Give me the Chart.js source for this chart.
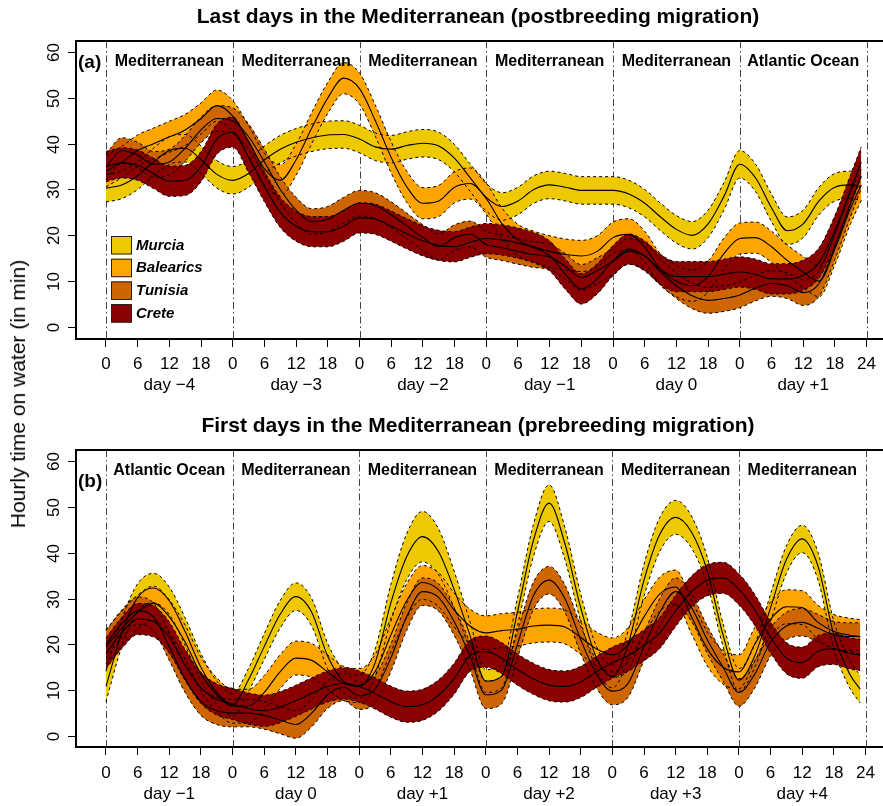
<!DOCTYPE html>
<html>
<head>
<meta charset="utf-8">
<script src="https://cdn.jsdelivr.net/npm/chart.js@4.4.1/dist/chart.umd.min.js"></script>
<style>
  body { margin: 0; background: #fff; width: 883px; height: 806px; position: relative; overflow: hidden;
         font-family: "Liberation Sans", Arial, Helvetica, sans-serif; }
  canvas { position: absolute; left: 0; }
  #chartA { top: 0; }
  #chartB { top: 403px; }
  #ylab { position: absolute; left: 18px; top: 394px; transform: translate(-50%, -50%) rotate(-90deg);
          white-space: nowrap; font-size: 21px; color: #000; }
</style>
</head>
<body>
<canvas id="chartA" width="883" height="403"></canvas>
<canvas id="chartB" width="883" height="403"></canvas>
<div id="ylab">Hourly time on water (in min)</div>
<script>
// hours since the start of the first day shown
const hours = [0, 3, 6, 9, 12, 15, 18, 21, 24, 27, 30, 33, 36, 39, 42, 45, 48, 51, 54, 57, 60, 63, 66, 69,
  72, 75, 78, 81, 84, 87, 90, 93, 96, 99, 102, 105, 108, 111, 114, 117, 120, 123, 126, 129, 132, 135, 138, 141, 143];
const hourTicks = [0, 6, 12, 18, 24, 30, 36, 42, 48, 54, 60, 66, 72, 78, 84, 90, 96, 102, 108, 114, 120, 126, 132, 138, 144];
const yTicks = [0, 10, 20, 30, 40, 50, 60];

const seriesNames = ["Murcia", "Balearics", "Tunisia", "Crete"];
const seriesColors = ["#EEC900", "#FFA500", "#CD6600", "#8B0000"];

// panel (a): last days in the Mediterranean
const daysA = ["day \u22124", "day \u22123", "day \u22122", "day \u22121", "day 0", "day +1"];
const regionsA = ["Mediterranean", "Mediterranean", "Mediterranean", "Mediterranean", "Mediterranean", "Atlantic Ocean"];
const murciaA = [30.3, 31, 33, 36, 38.5, 39, 36.5, 33.3, 32, 33.5, 36.5, 38.8, 40.3, 41.3, 41.9, 42,
  41, 39.3, 38.8, 39.6, 40.1, 39.5, 36.8, 32.5, 28.3, 26.3, 27.5, 30, 31, 30.5, 29.8, 29.8,
  29.8, 29, 27, 24, 21.3, 20, 22.5, 28.5, 35.5, 32.5, 26, 21, 22.5, 27.5, 30.5, 31, 30.6];
const balearicsA = [34, 36, 38.5, 40, 41.5, 43, 45.5, 48.3, 46, 40.5, 34.5, 32, 36.5, 43.5, 50, 54.3,
  52, 45, 37, 30.5, 27, 27.5, 30.5, 31.3, 28, 22.5, 19, 17.5, 16.5, 15.8, 15.5, 16.5,
  19.5, 20.2, 17.5, 12.5, 10, 9, 11, 16, 19.3, 19.5, 17.5, 14.5, 12, 10, 17, 26, 31];
const tunisiaA = [35, 38.5, 37.5, 35.5, 36, 39, 43, 45.5, 45, 41.5, 36, 30, 25.5, 23, 23.5, 25.5,
  27, 26.5, 24.5, 22, 19.5, 17.5, 19.5, 20.3, 18, 17.3, 16.5, 15.8, 15.3, 13.2, 10.8, 12.3,
  14.3, 16.5, 15.5, 12, 9, 6.8, 5.8, 6.2, 7, 8.5, 9.5, 9, 7.5, 9.5, 17.5, 27, 33];
const creteA = [35, 35.8, 35.3, 33.5, 31.8, 32, 35, 41, 42.5, 37, 30.6, 25, 22, 20.8, 20.8, 22,
  23.8, 23.5, 22, 20.3, 18.8, 17.8, 17.5, 18.5, 19.3, 19, 18.3, 17.3, 15.5, 11.5, 8.3, 10.5,
  14.5, 17, 15.5, 12.5, 11, 11, 11, 11.5, 12, 11.5, 10.5, 10.5, 11.3, 14, 21, 30, 36];
const halfA = [3.0, 3.4, 2.8, 3.3];

// panel (b): first days in the Mediterranean
const daysB = ["day \u22121", "day 0", "day +1", "day +2", "day +3", "day +4"];
const regionsB = ["Atlantic Ocean", "Mediterranean", "Mediterranean", "Mediterranean", "Mediterranean", "Mediterranean"];
const murciaB = [10.8, 22.5, 30.2, 32.3, 29.5, 22.8, 15, 9.5, 6.8, 12.2, 19.5, 26.5, 30.4, 27, 17.5, 12,
  10.8, 15.9, 29, 39.1, 43.5, 40.3, 32, 22, 12, 13, 27, 42.5, 50.8, 42, 28, 17,
  13, 20, 34, 44, 47.7, 44.5, 36, 22, 12.2, 17.5, 28, 38.5, 43, 37, 22, 13.5, 10.2];
const murciaHalfB = [3.3, 3, 3, 3.2, 3, 3, 3, 2.5, 2.5, 2.5, 2.8, 3, 3, 3, 2.8, 2.5,
  2.5, 3, 4, 5, 5.5, 5, 4, 3, 2.5, 2.5, 3, 3.5, 4, 3.5, 3, 2.5,
  2.5, 3, 3.5, 3.7, 3.7, 3.5, 3, 2.5, 2.5, 2.5, 3, 3, 3, 3, 3, 3, 3];
const balearicsB = [19.5, 23.5, 27, 29, 26, 20.5, 13.5, 9, 6.5, 6.5, 9.5, 14, 17, 16.5, 14, 11.5,
  11, 14, 22, 29.5, 33.5, 32, 27.5, 24, 22.5, 23, 23.3, 24, 24.2, 23.8, 21.5, 19,
  17.7, 20, 26, 31, 32.5, 26, 19, 15, 14, 20, 25.5, 28.2, 28, 24.8, 22.8, 22, 21.7];
const tunisiaB = [20, 24.5, 27.3, 26, 19.5, 12.5, 7.5, 5.5, 5, 5, 4.5, 3.5, 2.5, 5, 9, 10.7,
  8.8, 10.2, 17, 26, 31.5, 30.3, 25, 17.5, 9, 10, 20, 30.5, 34, 30, 21, 13.5,
  9.8, 11.5, 19.5, 27, 31.5, 28, 21, 15, 9.5, 13.5, 20.5, 24, 24.8, 23.5, 22, 21.7, 21.7];
const creteB = [18, 22.5, 25.5, 25, 21.5, 15.5, 10.5, 8, 7, 6, 5.5, 6.3, 7.7, 9.3, 10.8, 11.5,
  10.8, 9.3, 7.5, 6.4, 6.8, 8.8, 12.5, 17.5, 18.4, 17, 14.5, 12.5, 11.1, 10.8, 11.8, 14,
  16, 17.5, 19.8, 22.5, 27.3, 31.5, 34, 34.5, 32, 27.5, 21.5, 17, 16, 18.5, 19, 18, 17.7];
const halfB = [murciaHalfB, 3.7, 3.0, 3.4];

const FONT = '"Liberation Sans", Arial, Helvetica, sans-serif';

const halfAt = (h, i) => Array.isArray(h) ? h[i] : h;

const buildDatasets = (means, halves) => {
  const sets = [];
  // Crete first so its band is painted last (on top)
  for (let s = means.length - 1; s >= 0; s--) {
    const m = means[s];
    sets.push({
      data: hours.map((h, i) => ({ x: h, y: m[i] + halfAt(halves[s], i) })),
      fill: '+1', backgroundColor: seriesColors[s],
      borderColor: '#000', borderWidth: 1, borderDash: [3, 3]
    });
    sets.push({
      data: hours.map((h, i) => ({ x: h, y: m[i] - halfAt(halves[s], i) })),
      fill: false, borderColor: '#000', borderWidth: 1, borderDash: [3, 3]
    });
  }
  for (let s = 0; s < means.length; s++) {
    sets.push({
      data: hours.map((h, i) => ({ x: h, y: means[s][i] })),
      fill: false, borderColor: '#000', borderWidth: 1.1
    });
  }
  return sets;
};

const panelDecor = {
  id: 'panelDecor',
  beforeDraw(chart, args, o) {
    const { ctx, chartArea: a, scales: { x } } = chart;
    ctx.save();
    ctx.strokeStyle = '#444';
    ctx.lineWidth = 1;
    ctx.setLineDash([7, 3, 1.5, 3]);
    for (let d = 0; d <= 6; d++) {
      const px = Math.round(x.getPixelForValue(d * 24)) + 0.5;
      ctx.beginPath();
      ctx.moveTo(px, a.top);
      ctx.lineTo(px, a.bottom);
      ctx.stroke();
    }
    ctx.restore();
  },
  afterDraw(chart, args, o) {
    const { ctx, chartArea: a, scales: { x, y } } = chart;
    ctx.save();
    // box (open on the right)
    ctx.strokeStyle = '#000';
    ctx.lineWidth = 2;
    ctx.beginPath();
    ctx.moveTo(883, a.top); ctx.lineTo(a.left, a.top); ctx.lineTo(a.left, a.bottom); ctx.lineTo(883, a.bottom);
    ctx.stroke();

    // y axis ticks and rotated labels
    ctx.lineWidth = 1;
    ctx.fillStyle = '#000';
    ctx.font = '17px ' + FONT;
    ctx.textAlign = 'center';
    ctx.textBaseline = 'middle';
    yTicks.forEach(v => {
      const py = Math.round(y.getPixelForValue(v)) + 0.5;
      ctx.beginPath();
      ctx.moveTo(a.left - 8, py); ctx.lineTo(a.left, py);
      ctx.stroke();
      ctx.save();
      ctx.translate(54, py);
      ctx.rotate(-Math.PI / 2);
      ctx.fillText(String(v), 0, 0);
      ctx.restore();
    });

    // day labels under the hour ticks
    o.days.forEach((d, i) => ctx.fillText(d, x.getPixelForValue(i * 24 + 12), o.dayY));

    // title
    ctx.font = 'bold 21px ' + FONT;
    ctx.fillText(o.title, 478, o.titleY);

    // region labels
    ctx.font = 'bold 16px ' + FONT;
    o.regions.forEach((r, i) => ctx.fillText(r, x.getPixelForValue(i * 24 + 12), o.regionY));

    // panel tag
    ctx.font = 'bold 19px ' + FONT;
    ctx.textAlign = 'left';
    ctx.fillText(o.tag, 78, o.tagY);

    // legend
    if (o.legend) {
      ctx.font = 'italic bold 15px ' + FONT;
      seriesNames.forEach((n, i) => {
        const top = 236 + i * 22.7;
        ctx.fillStyle = seriesColors[i];
        ctx.fillRect(111, top, 21, 18.5);
        ctx.strokeStyle = '#222';
        ctx.lineWidth = 1;
        ctx.strokeRect(111.5, top + 0.5, 20, 17.5);
        ctx.fillStyle = '#000';
        ctx.fillText(n, 136, top + 9.5);
      });
    }
    ctx.restore();
  }
};

const drawPanel = (id, datasets, yMin, yMax, topPad, axisH, tickPad, deco) => {
  return new Chart(document.getElementById(id), {
    type: 'line',
    data: { datasets: datasets },
    options: {
      responsive: false,
      animation: false,
      devicePixelRatio: 1,
      events: [],
      layout: { padding: { left: 76, top: topPad, right: 0, bottom: 0 } },
      elements: {
        point: { radius: 0 },
        line: { cubicInterpolationMode: 'monotone' }
      },
      scales: {
        x: {
          type: 'linear', min: -5.68, max: 147.09,
          afterBuildTicks: s => { s.ticks = hourTicks.map(v => ({ value: v })); },
          afterFit: s => { s.height = axisH; },
          ticks: {
            autoSkip: false, maxRotation: 0, minRotation: 0, padding: tickPad, color: '#000',
            font: { family: FONT, size: 17 },
            callback: v => v === 144 ? '24' : String(v % 24)
          },
          grid: { drawOnChartArea: false, drawTicks: true, tickLength: 8, color: '#000', lineWidth: 1 },
          border: { display: false }
        },
        y: { type: 'linear', display: false, min: yMin, max: yMax }
      },
      plugins: {
        legend: { display: false },
        tooltip: { enabled: false },
        filler: { drawTime: 'beforeDatasetsDraw', propagate: false },
        panelDecor: deco
      }
    },
    plugins: [panelDecor]
  });
};

drawPanel('chartA', buildDatasets([murciaA, balearicsA, tunisiaA, creteA], halfA),
  -2.62, 62.4, 41, 64, 7, {
    title: 'Last days in the Mediterranean (postbreeding migration)', titleY: 17,
    regions: regionsA, regionY: 62, days: daysA, dayY: 385, tag: '(a)', tagY: 63, legend: true
  });

drawPanel('chartB', buildDatasets([murciaB, balearicsB, tunisiaB, creteB], halfB),
  -2.4, 62.4, 47, 59, 8, {
    title: 'First days in the Mediterranean (prebreeding migration)', titleY: 23,
    regions: regionsB, regionY: 68, days: daysB, dayY: 391, tag: '(b)', tagY: 79, legend: false
  });
</script>
</body>
</html>
